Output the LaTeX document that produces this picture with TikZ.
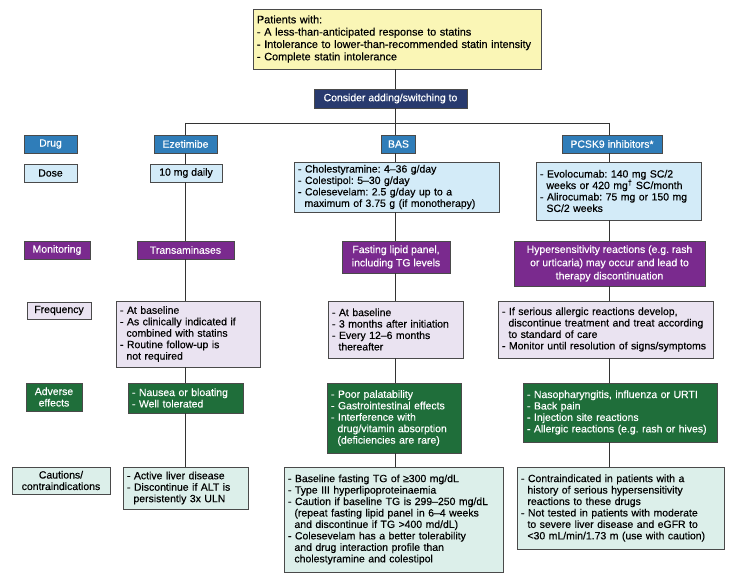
\documentclass[tikz,border=0pt]{standalone}
\usepackage{fontspec}
\setmainfont{Liberation Sans}[FakeBold=0.4]
\frenchspacing
\hyphenpenalty=10000
\exhyphenpenalty=10000

\definecolor{topfill}{HTML}{FAF6B6}
\definecolor{navy}{HTML}{283A6E}
\definecolor{drugblue}{HTML}{2F7DB9}
\definecolor{doseblue}{HTML}{D3EBF8}
\definecolor{monpurple}{HTML}{7A2A8E}
\definecolor{freqlilac}{HTML}{EAE3F1}
\definecolor{advgreen}{HTML}{1F6E3A}
\definecolor{cautmint}{HTML}{DCEFEA}
\definecolor{edge}{HTML}{4A4A4A}

\newcommand{\ind}{\noindent\hspace*{0.62em}}

\begin{document}
\begin{tikzpicture}[
        x=1bp, y=-1bp,
        font=\fontsize{10.5}{11.5}\selectfont,
        cell/.style={draw=edge, line width=0.9bp, inner xsep=4bp, inner ysep=1bp},
        lbl/.style 2 args={cell, align=center, minimum width=#1bp, minimum height=#2bp},
        lst/.style 2 args={cell, align=left, text width=#1bp, minimum height=#2bp},
        drug/.style={fill=drugblue, text=white},
        dose/.style={fill=doseblue},
        mon/.style={fill=monpurple, text=white, font=\fontsize{10.5}{13.3}\selectfont},
        freq/.style={fill=freqlilac},
        adv/.style={fill=advgreen, text=white},
        caut/.style={fill=cautmint},
        link/.style={draw=black!80, line width=0.8bp}
    ]

    \fill[white] (0,0) rectangle (739,586);
    \useasboundingbox (0,0) rectangle (739,586);

    % Top: patients + decision
    \node[lst={280}{60}, fill=topfill, font=\fontsize{10.9}{12.4}\selectfont] (top) at (397,39)
        {Patients with:\\- A less-than-anticipated response to statins\\- Intolerance to lower-than-recommended statin intensity\\- Complete statin intolerance};
    \node[lbl={153}{19}, fill=navy, text=white] (consider) at (390.5,98.5) {Consider adding/switching to};

    % Row labels
    \node[lbl={53}{18}, drug] (dDrug) at (50.5,144) {Drug};
    \node[lbl={53}{18}, dose] (dDose) at (50.5,173) {Dose};
    \node[lbl={66}{18}, mon] (dMon) at (57,250) {Monitoring};
    \node[lbl={64}{17}, freq] (dFreq) at (59,310.5) {Frequency};
    \node[lbl={56}{28}, adv, font=\fontsize{10.5}{11.5}\selectfont] (dAdv) at (54,397) {Adverse\\effects};
    \node[lbl={98}{27}, caut] (dCaut) at (61,480.5) {Cautions/\\contraindications};

    % Ezetimibe
    \node[lbl={63}{18}, drug] (eDrug) at (185.5,144) {Ezetimibe};
    \node[lbl={72}{18}, dose] (eDose) at (186,173) {10 mg daily};
    \node[lbl={97}{18}, mon] (eMon) at (185.5,250) {Transaminases};
    \node[lst={136}{66}, freq] (eFreq) at (188,334)
        {- At baseline\\- As clinically indicated if\\\ind combined with statins\\- Routine follow-up is\\\ind not required};
    \node[lst={107}{30}, adv] (eAdv) at (185.5,398) {- Nausea or bloating\\- Well tolerated};
    \node[lst={117}{42}, caut] (eCaut) at (185.5,488)
        {- Active liver disease\\- Discontinue if ALT is\\\ind persistently 3x ULN};

    % BAS
    \node[lbl={34}{18}, drug] (bDrug) at (398.5,144) {BAS};
    \node[lst={197}{50}, dose] (bDose) at (396.5,187)
        {- Cholestyramine: 4–36 g/day\\- Colestipol: 5–30 g/day\\- Colesevelam: 2.5 g/day up to a\\\ind maximum of 3.75 g (if monotherapy)};
    \node[lbl={108}{32}, mon] (bMon) at (396,257) {Fasting lipid panel,\\including TG levels};
    \node[lst={127}{57}, freq] (bFreq) at (395.5,329.5)
        {- At baseline\\- 3 months after initiation\\- Every 12–6 months\\\ind thereafter};
    \node[lst={126}{70}, adv] (bAdv) at (394,418)
        {- Poor palatability\\- Gastrointestinal effects\\- Interference with\\\ind drug/vitamin absorption\\\ind (deficiencies are rare)};
    \node[lst={211}{105}, caut] (bCaut) at (393.5,519.5)
        {- Baseline fasting TG of ≥300 mg/dL\\- Type III hyperlipoproteinaemia\\- Caution if baseline TG is 299–250 mg/dL\\\ind (repeat fasting lipid panel in 6–4 weeks\\\ind and discontinue if TG >400 md/dL)\\- Colesevelam has a better tolerability\\\ind and drug interaction profile than\\\ind cholestyramine and colestipol};

    % PCSK9 inhibitors
    \node[lbl={100}{18}, drug] (pDrug) at (612,144) {PCSK9 inhibitors*};
    \node[lst={157}{58}, dose] (pDose) at (618.5,191)
        {- Evolocumab: 140 mg SC/2\\\ind weeks or 420 mg\textsuperscript{†} SC/month\\- Alirocumab: 75 mg or 150 mg\\\ind SC/2 weeks};
    \node[lbl={191}{45}, mon] (pMon) at (609.5,263.5)
        {Hypersensitivity reactions (e.g. rash\\or urticaria) may occur and lead to\\therapy discontinuation};
    \node[lst={207}{57}, freq] (pFreq) at (605.5,329.5)
        {- If serious allergic reactions develop,\\\ind discontinue treatment and treat according\\\ind to standard of care\\- Monitor until resolution of signs/symptoms};
    \node[lst={186}{59}, adv] (pAdv) at (620,412.5)
        {- Nasopharyngitis, influenza or URTI\\- Back pain\\- Injection site reactions\\- Allergic reactions (e.g. rash or hives)};
    \node[lst={199}{82}, caut] (pCaut) at (620.5,508)
        {- Contraindicated in patients with a\\\ind history of serious hypersensitivity\\\ind reactions to these drugs\\- Not tested in patients with moderate\\\ind to severe liver disease and eGFR to\\\ind <30 mL/min/1.73 m (use with caution)};

    % Connectors
    \coordinate (e-col) at (185,123);
    \coordinate (b-col) at (395,123);
    \coordinate (p-col) at (609,123);
    \draw[link] (top.south -| b-col) -- (consider.north -| b-col);
    \draw[link] (consider.south -| b-col) -- (b-col);
    \draw[link] (e-col) -- (p-col);
    \foreach \col in {e,b,p} {
        \draw[link] (\col-col) -- (\col Drug.north -| \col-col);
        \foreach \up/\dn in {Drug/Dose, Dose/Mon, Mon/Freq, Freq/Adv, Adv/Caut}
            \draw[link] (\col\up.south -| \col-col) -- (\col\dn.north -| \col-col);
    }

\end{tikzpicture}
\end{document}
